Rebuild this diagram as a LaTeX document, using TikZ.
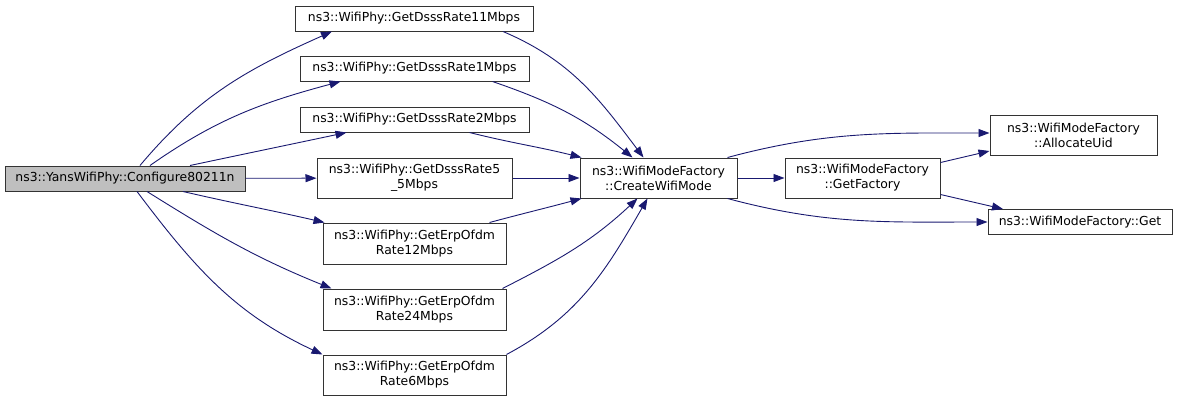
\documentclass[tikz,border=0pt]{standalone}
\usepackage{fontspec}
\setmainfont{DejaVu Sans}
\usetikzlibrary{arrows.meta}
\definecolor{edgeblue}{HTML}{191970}
\definecolor{rootgray}{HTML}{BFBFBF}

\begin{document}
\begin{tikzpicture}[x=1pt,y=-1pt,
    fn/.style={draw=black!80,line width=1pt,fill=white,inner sep=0pt,align=center,
      font=\fontsize{12.4}{15}\selectfont},
    call/.style={draw=edgeblue,line width=0.9pt,-{Triangle[length=11pt,width=8pt]}}]
  \useasboundingbox (0,0) rectangle (1179,400);

  \node[fn,fill=rootgray,minimum width=240pt,minimum height=25pt] (cfg) at (125,178.5) {ns3::YansWifiPhy::Configure80211n};

  \node[fn,minimum width=238pt,minimum height=25pt] (d11) at (414,18.5) {ns3::WifiPhy::GetDsssRate11Mbps};
  \node[fn,minimum width=229pt,minimum height=25pt] (d1) at (414.5,68.5) {ns3::WifiPhy::GetDsssRate1Mbps};
  \node[fn,minimum width=229pt,minimum height=25pt] (d2) at (414.5,119.5) {ns3::WifiPhy::GetDsssRate2Mbps};
  \node[fn,minimum width=195pt,minimum height=40pt] (d55) at (414.5,178) {ns3::WifiPhy::GetDsssRate5\\\_5Mbps};
  \node[fn,minimum width=183pt,minimum height=41pt] (e12) at (414.5,243.5) {ns3::WifiPhy::GetErpOfdm\\Rate12Mbps};
  \node[fn,minimum width=183pt,minimum height=41pt] (e24) at (414.5,309.5) {ns3::WifiPhy::GetErpOfdm\\Rate24Mbps};
  \node[fn,minimum width=183pt,minimum height=40pt] (e6) at (414.5,375) {ns3::WifiPhy::GetErpOfdm\\Rate6Mbps};

  \node[fn,minimum width=157pt,minimum height=40pt] (create) at (658.5,178) {ns3::WifiModeFactory\\::CreateWifiMode};
  \node[fn,minimum width=155pt,minimum height=40pt] (getfac) at (862.5,178) {ns3::WifiModeFactory\\::GetFactory};
  \node[fn,minimum width=167pt,minimum height=40pt] (alloc) at (1073.5,135) {ns3::WifiModeFactory\\::AllocateUid};
  \node[fn,minimum width=184pt,minimum height=25pt] (get) at (1080,222) {ns3::WifiModeFactory::Get};

  \draw[call] ([xshift=15pt]cfg.north) to[out=50,in=204] ([xshift=-82pt]d11.south);
  \draw[call] ([xshift=25pt]cfg.north) to[out=35,in=195] ([xshift=-74pt]d1.south);
  \draw[call] ([xshift=65pt]cfg.north) to[out=12,in=192] ([xshift=-68pt]d2.south);
  \draw[call] (cfg) -- (d55);
  \draw[call] ([xshift=58pt]cfg.south) to[out=-13,in=167] ([xshift=2pt]e12.north west);
  \draw[call] ([xshift=22pt]cfg.south) to[out=-32,in=158] ([xshift=9pt]e24.north west);
  \draw[call] ([xshift=12pt]cfg.south) to[out=-53,in=155] (e6.north west);

  \draw[call] ([xshift=89pt]d11.south) to[out=-23,in=127] ([xshift=-15pt]create.north);
  \draw[call] ([xshift=78pt]d1.south) to[out=-19,in=141] ([xshift=-26pt]create.north);
  \draw[call] ([xshift=55pt]d2.south) to[out=-14,in=166] ([xshift=2pt]create.north west);
  \draw[call] (d55) -- (create);
  \draw[call] ([xshift=75pt]e12.north) to[out=15,in=195] ([xshift=2pt]create.south west);
  \draw[call] ([xshift=-4pt]e24.north east) to[out=27,in=-137] ([xshift=-21pt]create.south);
  \draw[call] (e6.north east) to[out=28,in=-120] ([xshift=-11pt]create.south);

  \draw[call] (create) -- (getfac);
  \draw[call] ([xshift=-10pt]create.north east) to[out=15,in=180] ([yshift=2pt]alloc.west);
  \draw[call] ([xshift=-10pt]create.south east) to[out=-15,in=180] (get.west);
  \draw[call] ([yshift=-5pt]getfac.north east) -- ([yshift=-16pt]alloc.west);
  \draw[call] ([yshift=4pt]getfac.south east) -- ([xshift=-77pt]get.north);
\end{tikzpicture}
\end{document}
